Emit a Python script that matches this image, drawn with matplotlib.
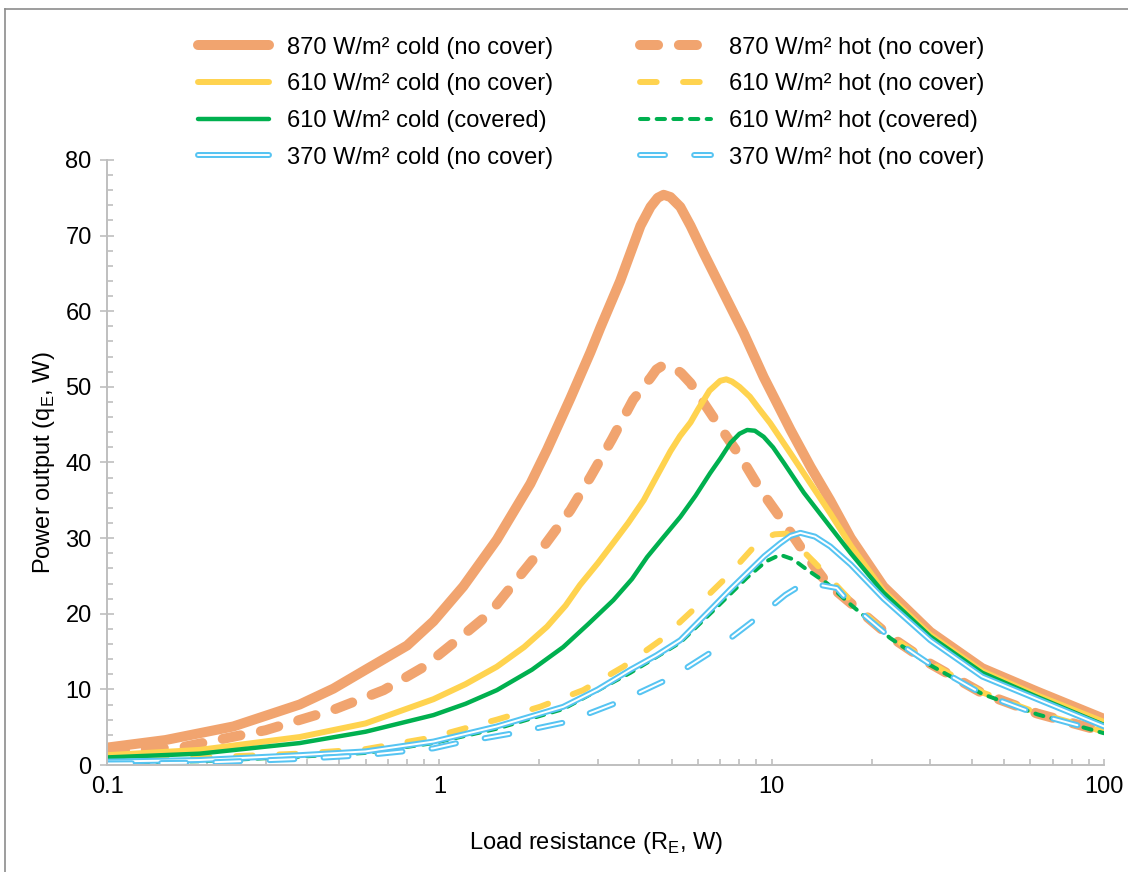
import matplotlib
matplotlib.use("Agg")
import matplotlib.pyplot as plt
from matplotlib.lines import Line2D
from matplotlib.ticker import LogLocator, MultipleLocator, FuncFormatter

plt.rcParams['font.family'] = ['Liberation Sans', 'DejaVu Sans']
plt.rcParams['lines.scale_dashes'] = False

# 870 W/m2 cold (no cover)
x_870c = [0.1, 0.15, 0.24, 0.38, 0.48, 0.6, 0.8, 0.96, 1.18, 1.49, 1.88, 2.11, 2.48, 2.85,
          3.05, 3.5, 4.03, 4.32, 4.54, 4.73, 4.96, 5.31, 5.7, 6.24, 7.17, 8.24, 9.46, 11.4,
          13.1, 15.0, 17.3, 21.7, 30, 43, 63, 100]
y_870c = [2.3, 3.3, 5.1, 8.0, 10.1, 12.6, 15.8, 19.0, 23.6, 29.8, 37.2, 41.7, 48.5, 54.6,
          57.8, 64.0, 71.3, 73.8, 75.0, 75.4, 75.1, 73.8, 71.3, 67.7, 62.4, 57.1, 51.3, 44.3,
          39.4, 35.0, 30.0, 23.6, 17.6, 12.8, 9.7, 6.1]

# 870 W/m2 hot (no cover)
x_870h = [0.1, 0.17, 0.3, 0.48, 0.68, 0.9, 1.13, 1.42, 1.71, 2.06, 2.48, 2.85, 3.3, 3.83,
          4.32, 4.5, 4.73, 5.1, 5.35, 5.7, 6.67, 8.1, 9.25, 10.9, 12.8, 14.7, 17.3, 22.7, 30,
          43, 63, 100]
y_870h = [1.8, 2.4, 4.6, 7.3, 9.9, 13.0, 16.5, 20.1, 24.5, 28.9, 33.7, 38.1, 43.0, 48.3,
          51.2, 52.3, 52.9, 52.5, 51.8, 50.5, 46.0, 40.6, 36.4, 32.0, 27.5, 24.0, 21.4, 17.0,
          13.4, 9.5, 6.8, 4.4]

# 610 W/m2 cold (no cover)
x_610c = [0.1, 0.19, 0.38, 0.6, 0.96, 1.2, 1.49, 1.8, 2.11, 2.4, 2.65, 3.0, 3.34, 3.7, 4.12,
          4.5, 4.96, 5.3, 5.7, 6.0, 6.5, 7.0, 7.3, 7.6, 8.0, 8.6, 9.2, 9.9, 11.4, 15.0, 17.3,
          21.7, 30, 43, 63, 100]
y_610c = [1.3, 2.0, 3.7, 5.5, 8.7, 10.7, 13.0, 15.6, 18.3, 21.1, 23.8, 26.7, 29.4, 32.0, 35.0,
          38.1, 41.5, 43.5, 45.3, 47.0, 49.5, 50.8, 51.0, 50.7, 50.0, 48.7, 47.0, 45.2, 41.2,
          33.3, 29.0, 23.0, 17.2, 12.4, 9.2, 5.7]

# 610 W/m2 hot (no cover)
x_610h = [0.1, 0.38, 0.6, 0.94, 1.49, 2.01, 2.71, 3.58, 4.63, 5.8, 7.34, 9.25, 10.2, 11.1,
          12.3, 14.3, 18.0, 22.7, 30, 43, 63, 100]
y_610h = [0.5, 1.5, 2.1, 3.6, 6.0, 7.7, 9.9, 13.0, 16.5, 20.5, 24.9, 29.8, 30.5, 30.6, 28.5,
          25.6, 20.9, 17.1, 13.5, 9.6, 6.9, 4.4]

# 610 W/m2 cold (covered)
x_610cc = [0.1, 0.19, 0.38, 0.6, 0.96, 1.2, 1.49, 1.9, 2.36, 2.8, 3.34, 3.8, 4.22, 4.7, 5.31,
           5.9, 6.53, 7.0, 7.52, 8.0, 8.44, 8.9, 9.46, 10.1, 10.9, 12.5, 15.0, 17.3, 21.7, 30,
           43, 63, 100]
y_610cc = [1.0, 1.5, 2.9, 4.4, 6.6, 8.1, 9.9, 12.6, 15.6, 18.6, 21.8, 24.6, 27.5, 30.0, 32.8,
           35.6, 38.6, 40.5, 42.6, 43.8, 44.3, 44.2, 43.4, 42.0, 39.9, 36.0, 31.5, 28.0, 22.8,
           17.0, 12.2, 9.0, 5.3]

# 610 W/m2 hot (covered)
x_610hc = [0.1, 0.19, 0.38, 0.6, 0.96, 1.49, 2.36, 3.76, 5.31, 6.67, 8.44, 9.6, 10.6, 11.6,
           12.8, 14.7, 17.3, 22.7, 30, 43, 63, 100]
y_610hc = [0.3, 0.5, 1.1, 1.6, 2.9, 4.8, 7.4, 12.2, 16.2, 20.4, 24.8, 26.9, 27.8, 27.2,
           25.8, 24.0, 21.2, 16.8, 13.2, 9.4, 6.7, 4.2]

# 370 W/m2 cold (no cover)
x_370c = [0.1, 0.19, 0.38, 0.6, 0.96, 1.49, 2.36, 3.0, 3.76, 4.5, 5.31, 6.67, 7.5, 8.44,
          9.5, 10.6, 11.4, 12.2, 13.5, 15.0, 17.3, 21.7, 30, 43, 63, 100]
y_370c = [0.45, 0.66, 1.3, 1.8, 3.1, 5.1, 7.7, 10.0, 12.6, 14.5, 16.5, 20.9, 23.2, 25.4,
          27.6, 29.3, 30.3, 30.7, 30.2, 28.9, 26.5, 22.0, 16.5, 11.7, 8.7, 5.1]

# 370 W/m2 hot (no cover)
x_370h = [0.1, 0.19, 0.38, 0.6, 0.96, 1.13, 1.67, 2.42, 3.5, 4.96, 6.84, 9.25, 11.0, 12.6,
          14.0, 15.7, 17.3, 22.7, 30, 43, 63, 100]
y_370h = [0.2, 0.3, 0.8, 1.3, 2.2, 2.9, 4.2, 5.7, 8.4, 11.5, 15.4, 19.8, 22.5, 24.1,
          23.8, 23.4, 21.3, 16.9, 13.3, 9.4, 6.7, 4.3]

orange = '#F1A46F'
yellow = '#FFD34F'
green = '#00B04F'
blue = '#56C4F2'

fig = plt.figure(figsize=(11.28, 8.72), dpi=100)
ax = fig.add_axes([107 / 1128, 1 - 765 / 872, (1104 - 107) / 1128, (765 - 160) / 872])

kw = dict(solid_capstyle='round', dash_capstyle='round', solid_joinstyle='round',
          dash_joinstyle='round')

h1, = ax.plot(x_870c, y_870c, color=orange, lw=7.2, **kw)
h2, = ax.plot(x_870h, y_870h, color=orange, lw=7.2, ls=(0, (13, 15)), **kw)
h3, = ax.plot(x_610c, y_610c, color=yellow, lw=4.3, **kw)
h4, = ax.plot(x_610h, y_610h, color=yellow, lw=4.3, ls=(0, (12, 19)), **kw)
h5, = ax.plot(x_610cc, y_610cc, color=green, lw=3.2, **kw)
h6, = ax.plot(x_610hc, y_610hc, color=green, lw=2.9, ls=(0, (6, 6)), **kw)
h7a, = ax.plot(x_370c, y_370c, color=blue, lw=4.3, **kw)
h7b, = ax.plot(x_370c, y_370c, color='white', lw=1.4, **kw)
h8a, = ax.plot(x_370h, y_370h, color=blue, lw=4.3, ls=(0, (18, 21)), **kw)
h8b, = ax.plot(x_370h, y_370h, color='white', lw=1.4, ls=(0, (18, 21)), **kw)

ax.set_xscale('log')
ax.set_xlim(0.1, 100)
ax.set_ylim(0, 80)
ax.xaxis.set_major_locator(LogLocator(base=10))
ax.xaxis.set_minor_locator(LogLocator(base=10, subs=range(2, 10)))
ax.xaxis.set_major_formatter(FuncFormatter(lambda v, p: f'{v:g}'))
ax.xaxis.set_minor_formatter(FuncFormatter(lambda v, p: ''))
ax.yaxis.set_major_locator(MultipleLocator(10))
ax.yaxis.set_minor_locator(MultipleLocator(2))

for s in ['top', 'right']:
    ax.spines[s].set_visible(False)
for s in ['left', 'bottom']:
    ax.spines[s].set_color('#BFBFBF')
    ax.spines[s].set_linewidth(1.4)

ax.tick_params(axis='x', which='both', direction='in', length=4, width=1.2,
               color='#BFBFBF', labelsize=17, pad=8)
ax.tick_params(axis='y', which='major', direction='inout', length=10, width=1.2,
               color='#BFBFBF', labelsize=17, pad=6)
ax.tick_params(axis='y', which='minor', direction='in', length=4, width=1.2, color='#BFBFBF')

ax.set_xlabel('Load resistance (R$_\\mathregular{E}$, W)', fontsize=17, labelpad=23)
ax.set_ylabel('Power output (q$_\\mathregular{E}$, W)', fontsize=17, labelpad=6)
ax.xaxis.label.set_x(0.491)

handles = [h1, h3, h5, (h7a, h7b), h2, h4, h6, (h8a, h8b)]
labels = ['870 W/m² cold (no cover)', '610 W/m² cold (no cover)',
          '610 W/m² cold (covered)', '370 W/m² cold (no cover)',
          '870 W/m² hot (no cover)', '610 W/m² hot (no cover)',
          '610 W/m² hot (covered)', '370 W/m² hot (no cover)']
fig.legend(handles, labels, ncol=2, loc='upper left', bbox_to_anchor=(0.1755, 0.958),
           frameon=False, fontsize=17, handlelength=3.0, columnspacing=3.7,
           labelspacing=0.62, handletextpad=0.75, borderpad=0, borderaxespad=0)

# chart border
fig.add_artist(Line2D([5 / 1128, 1], [1 - 9.5 / 872, 1 - 9.5 / 872], color='#8C8C8C', lw=1.2))
fig.add_artist(Line2D([5 / 1128, 5 / 1128], [0, 1 - 9.5 / 872], color='#8C8C8C', lw=1.2))

fig.savefig('out.png', dpi=100)
